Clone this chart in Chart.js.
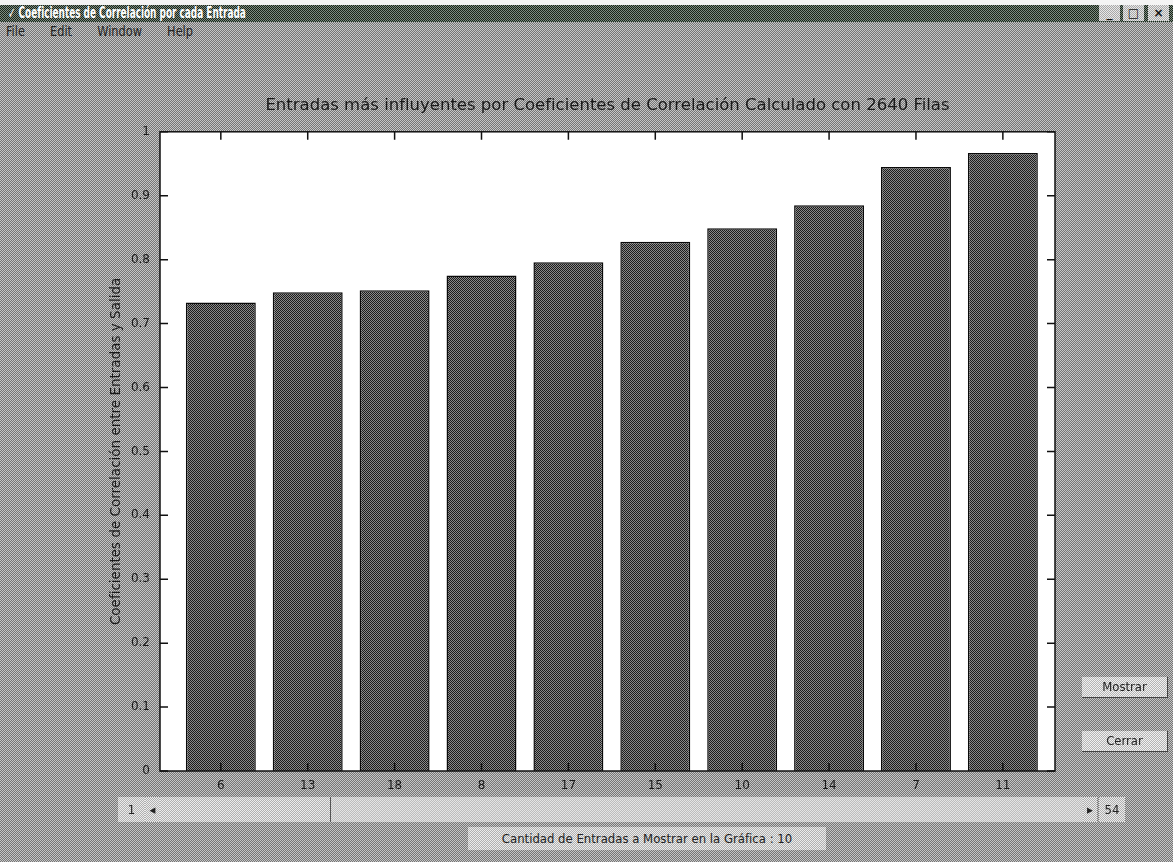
<!DOCTYPE html>
<html lang="es">
<head>
<meta charset="utf-8">
<title>Coeficientes de Correlación por cada Entrada</title>
<script src="https://cdn.jsdelivr.net/npm/chart.js@4.4.1/dist/chart.umd.min.js"></script>
<style>
  html, body { margin: 0; padding: 0; }
  body {
    width: 1173px; height: 862px; position: relative; overflow: hidden;
    font-family: "DejaVu Sans Condensed", "Liberation Sans", sans-serif;
    background-color: #9c9c9c;
    background-image: repeating-conic-gradient(#767676 0 25%, #c6c6c6 0 50%);
    background-size: 2px 2px;
  }
  .topwhite { position: absolute; left: 0; top: 0; width: 1173px; height: 5px; background: #f4f4f4; }
  .titlebar {
    position: absolute; left: 0; top: 5px; width: 1173px; height: 17px;
    background-color: #3a4a3a;
    background-image: repeating-conic-gradient(#18241a 0 25%, #7e8c80 0 50%);
    background-size: 2px 2px;
    color: #fff; font-weight: bold; font-size: 15px; line-height: 17px;
  }
  .titlebar span {
    position: absolute; left: 8px; top: 0; white-space: nowrap;
    transform: scaleX(0.66); transform-origin: left center;
  }
  .ctrl {
    position: absolute; top: 5px; width: 21px; height: 16px;
    background-image: repeating-conic-gradient(#e8e8e8 0 25%, #a8a8a8 0 50%);
    background-size: 2px 2px; color: #111; font-size: 12px; line-height: 16px; text-align: center;
    font-family: "DejaVu Sans", sans-serif; font-weight: bold;
  }
  .menu {
    position: absolute; top: 23px; left: 6px; font-size: 14px; color: #222; white-space: nowrap;
    transform: scaleX(0.9); transform-origin: left center; word-spacing: 24px;
  }
  .btn {
    position: absolute; left: 1082px; width: 85px; height: 20px;
    background-image: repeating-conic-gradient(#f2f2f2 0 25%, #b4b4b4 0 50%);
    background-size: 2px 2px; color: #222; font-size: 13px; line-height: 20px; text-align: center;
    border-right: 1px solid #444; border-bottom: 1px solid #444;
  }
  .slider { position: absolute; top: 797px; height: 25px; }
  .lite {
    background-image: repeating-conic-gradient(#ececec 0 25%, #b0b0b0 0 50%);
    background-size: 2px 2px;
  }
  .track {
    background-image: repeating-conic-gradient(#e4e4e4 0 25%, #bcbcbc 0 50%);
    background-size: 2px 2px;
  }
  .sl-txt { color: #222; font-size: 13px; line-height: 25px; text-align: center; }
  .caption {
    position: absolute; left: 468px; top: 827px; width: 358px; height: 23px;
    color: #222; font-size: 13px; line-height: 23px; text-align: center;
  }
  #chart { position: absolute; left: 40px; top: 80px; }
</style>
</head>
<body>
<div class="topwhite"></div>
<div class="titlebar"><span>✓ Coeficientes de Correlación por cada Entrada</span></div>
<div class="ctrl" style="left:1099px">_</div>
<div class="ctrl" style="left:1123px">□</div>
<div class="ctrl" style="left:1148px">×</div>
<div class="menu">File Edit Window Help</div>

<canvas id="chart" width="1133" height="721"></canvas>

<div class="btn" style="top:677px">Mostrar</div>
<div class="btn" style="top:731px">Cerrar</div>

<div class="slider lite sl-txt" style="left:118px;width:27px">1</div>
<div class="slider lite sl-txt" style="left:145px;width:15px">◂</div>
<div class="slider track" style="left:160px;width:923px"></div>
<div class="slider lite" style="left:160px;width:170px;border-right:1px solid #555"></div>
<div class="slider lite sl-txt" style="left:1083px;width:14px">▸</div>
<div class="slider lite sl-txt" style="left:1099px;width:26px">54</div>
<div class="caption lite">Cantidad de Entradas a Mostrar en la Gráfica : 10</div>

<script>
// Input numbers shown under each bar, sorted by correlation
const entradas = ['6', '13', '18', '8', '17', '15', '10', '14', '7', '11'];
// Correlation coefficient of each input
const coeficientes = [0.733, 0.749, 0.752, 0.775, 0.796, 0.828, 0.849, 0.885, 0.945, 0.967];
// Vertical axis tick values
const valoresEje = [0, 0.1, 0.2, 0.3, 0.4, 0.5, 0.6, 0.7, 0.8, 0.9, 1];
// Horizontal axis limits (bar positions run 1..10)
const limitesX = [0.3, 10.6];

const tituloGrafica = 'Entradas más influyentes por Coeficientes de Correlación Calculado con 2640 Filas';
const tituloEjeY = 'Coeficientes de Correlación entre Entradas y Salida';

// Dithered dark fill for the bars
function dither(a, b) {
  const c = document.createElement('canvas');
  c.width = 2; c.height = 2;
  const g = c.getContext('2d');
  g.fillStyle = b; g.fillRect(0, 0, 2, 2);
  g.fillStyle = a; g.fillRect(0, 0, 1, 1); g.fillRect(1, 1, 1, 1);
  return g.createPattern(c, 'repeat');
}
const relleno = dither('#1c1c1c', '#8a8a8a');

const fuente = { family: '"DejaVu Sans", "Liberation Sans", sans-serif' };

// White axes box with inward ticks on all four sides
const cajaEjes = {
  id: 'cajaEjes',
  beforeDatasetsDraw(chart) {
    const { ctx, chartArea: a } = chart;
    ctx.save();
    ctx.fillStyle = '#ffffff';
    ctx.fillRect(a.left, a.top, a.right - a.left, a.bottom - a.top);
    ctx.restore();
  },
  afterDatasetsDraw(chart) {
    const { ctx, chartArea: a, scales: { x, y } } = chart;
    ctx.save();
    ctx.strokeStyle = '#111';
    ctx.lineWidth = 1.5;
    ctx.strokeRect(a.left, a.top, a.right - a.left, a.bottom - a.top);
    ctx.beginPath();
    y.ticks.forEach((t, i) => {
      const py = y.getPixelForTick(i);
      ctx.moveTo(a.left, py); ctx.lineTo(a.left + 8, py);
      ctx.moveTo(a.right, py); ctx.lineTo(a.right - 8, py);
    });
    x.ticks.forEach((t, i) => {
      const px = x.getPixelForTick(i);
      ctx.moveTo(px, a.top); ctx.lineTo(px, a.top + 8);
      ctx.moveTo(px, a.bottom); ctx.lineTo(px, a.bottom - 8);
    });
    ctx.stroke();
    ctx.restore();
  }
};

new Chart(document.getElementById('chart'), {
  type: 'bar',
  data: {
    datasets: [{
      data: coeficientes.map((v, i) => ({ x: i + 1, y: v })),
      backgroundColor: relleno,
      borderColor: '#0a0a0a',
      borderWidth: 1.5,
      barPercentage: 0.805,
      categoryPercentage: 1
    }]
  },
  options: {
    responsive: false,
    animation: false,
    layout: { padding: { left: 0, right: 118, top: 0, bottom: 0 } },
    plugins: {
      legend: { display: false },
      tooltip: { enabled: false },
      title: {
        display: true,
        fullSize: false,
        text: tituloGrafica,
        color: '#1a1a1a',
        font: { ...fuente, size: 16.5, weight: 'normal' },
        padding: { top: 16, bottom: 16 }
      }
    },
    scales: {
      x: {
        type: 'linear',
        min: limitesX[0], max: limitesX[1],
        offset: false,
        afterBuildTicks(s) { s.ticks = entradas.map((e, i) => ({ value: i + 1 })); },
        grid: { display: false, drawTicks: false },
        border: { display: false },
        ticks: {
          color: '#1a1a1a', font: { ...fuente, size: 12 }, padding: 8, maxRotation: 0,
          callback: v => entradas[Math.round(v) - 1]
        },
        afterFit(s) { s.height = 30; }
      },
      y: {
        min: 0, max: 1,
        afterBuildTicks(s) { s.ticks = valoresEje.map(v => ({ value: v })); },
        grid: { display: false, drawTicks: false },
        border: { display: false },
        ticks: {
          color: '#1a1a1a', font: { ...fuente, size: 12 }, padding: 10,
          callback: v => String(Number(v.toFixed(1)))
        },
        title: {
          display: true,
          text: tituloEjeY,
          color: '#1a1a1a',
          font: { ...fuente, size: 13.5 },
          padding: { top: 68, bottom: 0 }
        },
        afterFit(s) { s.width = 120; }
      }
    }
  },
  plugins: [cajaEjes]
});
</script>
</body>
</html>
